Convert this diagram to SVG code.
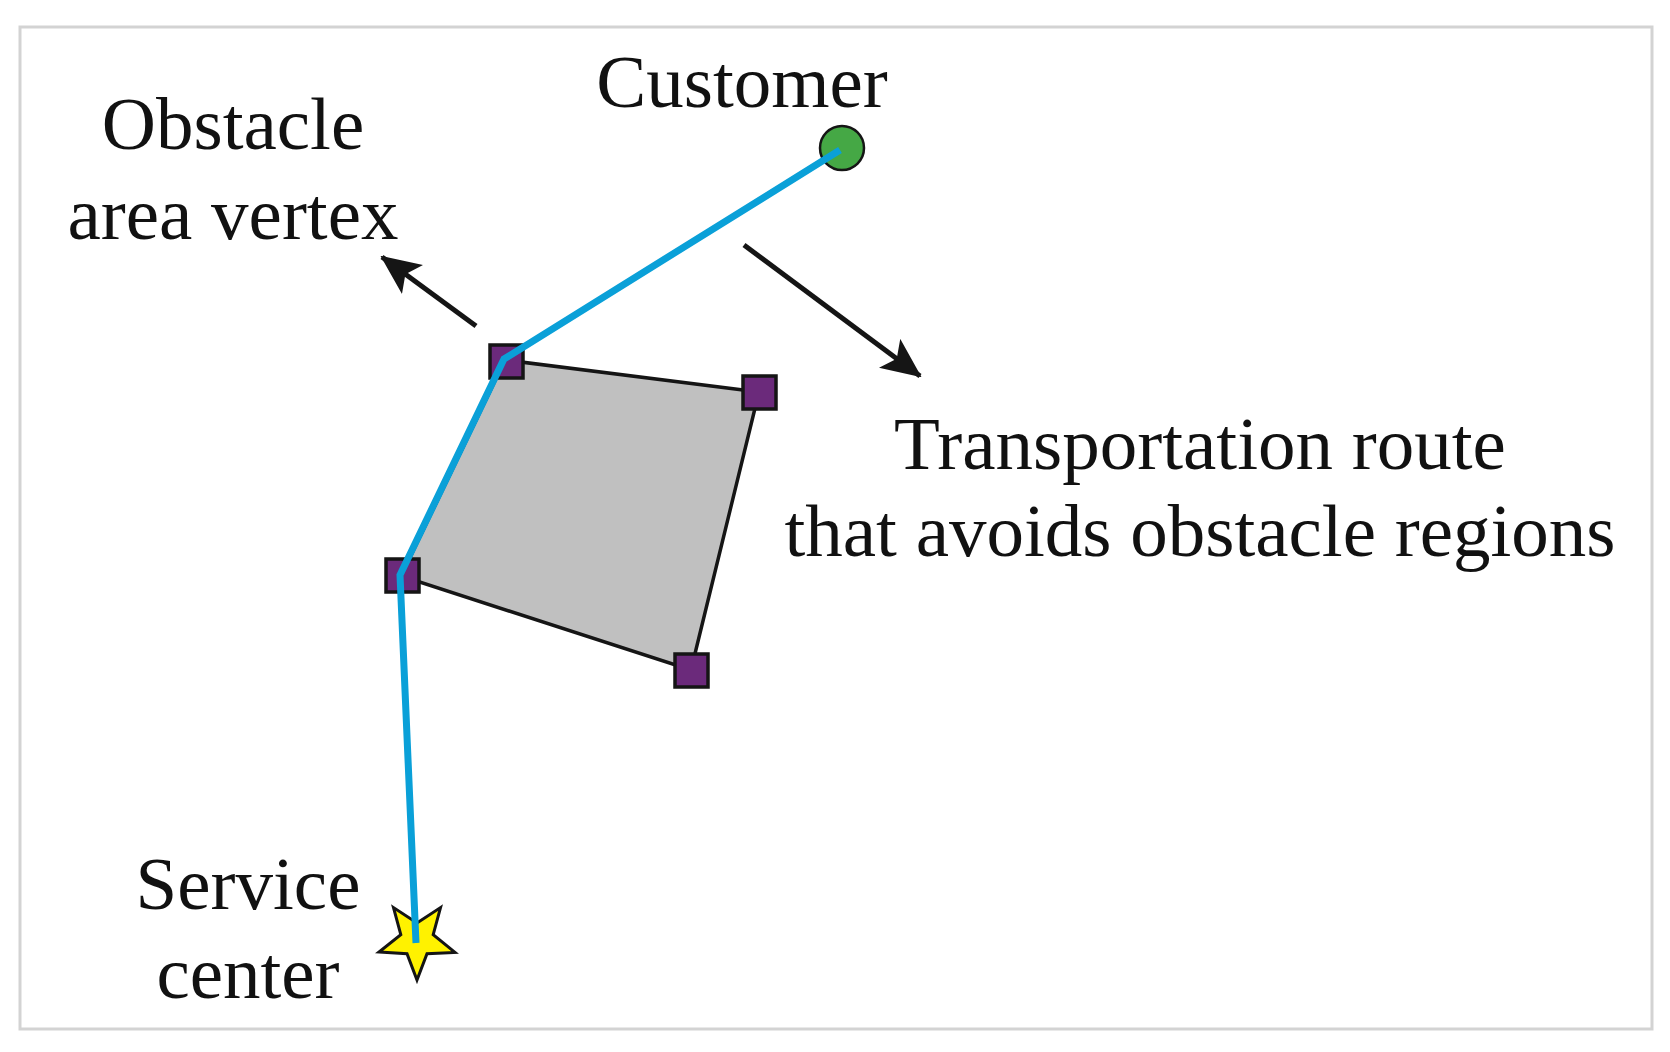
<svg xmlns="http://www.w3.org/2000/svg" width="1670" height="1052" viewBox="0 0 1670 1052">
<style>
.lbl{font-family:"Liberation Serif","Times New Roman",serif;font-size:75px;fill:#111;text-anchor:middle}
.vtx{fill:#6b2a7b;stroke:#151515;stroke-width:3.5}
.arr{stroke:#151515;stroke-width:5;fill:none}
.route{stroke:#0aa0d8;stroke-width:7;fill:none;stroke-linejoin:miter}
</style>
<defs>
<marker id="ah" viewBox="0 0 40 36" refX="38" refY="18" markerWidth="40" markerHeight="36" markerUnits="userSpaceOnUse" orient="auto">
<path d="M0,0 L40,18 L0,36 L9,18 Z" fill="#151515"/>
</marker>
</defs>
<rect x="20" y="27" width="1632" height="1002" fill="#fff" stroke="#d3d3d3" stroke-width="3"/>
<g id="obstacle">
<polygon points="505,360 759,392 691,670 401,576" fill="#c0c0c0" stroke="#151515" stroke-width="3.5"/>
</g>
<g id="connectors">
<line class="arr" x1="476" y1="326" x2="382" y2="257" marker-end="url(#ah)"/>
<line class="arr" x1="744" y1="245" x2="920" y2="376" marker-end="url(#ah)"/>
</g>
<g id="vertices">
<rect id="v1" class="vtx" x="490" y="345" width="33" height="33"/>
<rect id="v2" class="vtx" x="743" y="376" width="33" height="33"/>
<rect id="v3" class="vtx" x="675" y="654" width="33" height="33"/>
<rect id="v4" class="vtx" x="386" y="559" width="33" height="33"/>
</g>
<g id="service-center">
<polygon points="417,980 427,953.8 455,952.4 433.2,934.7 440.5,907.6 417,923 393.5,907.6 400.8,934.7 379,952 407,953.8" fill="#fff200" stroke="#151515" stroke-width="3" stroke-linejoin="miter"/>
</g>
<g id="customer">
<circle cx="842" cy="148" r="22" fill="#45a845" stroke="#151515" stroke-width="2.5"/>
</g>
<g id="route">
<polyline class="route" points="840,150 504,359 400,575 416,943"/>
</g>
<g id="labels">
<text class="lbl" x="742" y="107">Customer</text>
<text class="lbl" x="233" y="149">Obstacle</text>
<text class="lbl" x="233" y="239">area vertex</text>
<text class="lbl" x="1200" y="469">Transportation route</text>
<text class="lbl" x="1200" y="556">that avoids obstacle regions</text>
<text class="lbl" x="248" y="909">Service</text>
<text class="lbl" x="248" y="998">center</text>
</g>
</svg>
